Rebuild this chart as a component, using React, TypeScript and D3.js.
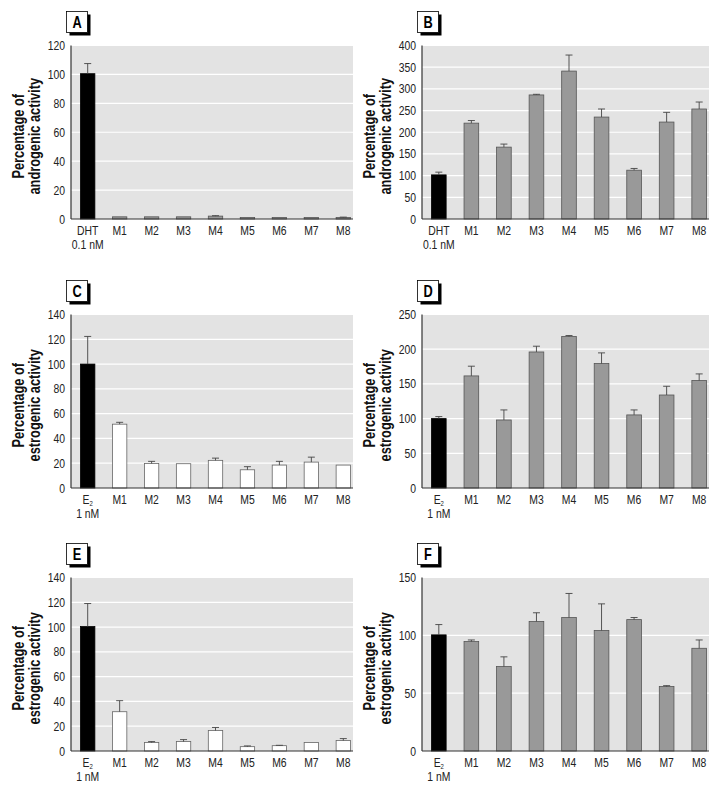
import React from "react";
import * as d3 from "d3";

// ---------- data ----------
const categories = ["ref", "M1", "M2", "M3", "M4", "M5", "M6", "M7", "M8"];

const panelLabels = ["A", "B", "C", "D", "E", "F"];
const refNames = ["DHT", "DHT", "E", "E", "E", "E"];
const refDoses = ["0.1 nM", "0.1 nM", "1 nM", "1 nM", "1 nM", "1 nM"];
const yMaxes = [120, 400, 140, 250, 140, 150];
const ySteps = [20, 50, 20, 50, 20, 50];
const yTitleLine2 = [
  "androgenic activity",
  "androgenic activity",
  "estrogenic activity",
  "estrogenic activity",
  "estrogenic activity",
  "estrogenic activity",
];
const sampleStyles = ["gray", "gray", "white", "gray", "white", "gray"];

const valuesA = [100.5, 1.5, 1.5, 1.5, 2, 1, 1, 1, 1];
const errorsA = [7, 0, 0, 0, 0.3, 0, 0, 0, 0.3];
const valuesB = [101.7, 221, 165.7, 286, 341, 235, 112.5, 223.5, 253.6];
const errorsB = [6.3, 6, 7, 1.5, 37, 18.6, 4, 22.4, 16.1];
const valuesC = [100, 51.5, 19.8, 19.6, 22.3, 14.7, 18.5, 20.9, 18.5];
const errorsC = [22.3, 1.5, 1.7, 0.2, 1.8, 2.5, 3, 4, 0];
const valuesD = [100, 161.5, 98, 196, 218.3, 179.3, 105.3, 134, 154.8];
const errorsD = [2.9, 14, 14.5, 8.3, 1.4, 15.4, 7.2, 12.6, 9.6];
const valuesE = [100.4, 31.7, 6.8, 7.6, 16.5, 3.5, 4.3, 6.8, 8.4];
const errorsE = [18.6, 8.9, 0.8, 1.6, 2.5, 0.6, 0.3, 0, 1.6];
const valuesF = [100.4, 94.6, 73, 112, 115.4, 104.2, 113.6, 55.7, 88.8];
const errorsF = [8.9, 1.4, 8.4, 7.5, 20.8, 23, 1.8, 0.8, 7.2];

const allValues = [valuesA, valuesB, valuesC, valuesD, valuesE, valuesF];
const allErrors = [errorsA, errorsB, errorsC, errorsD, errorsE, errorsF];

// ---------- layout ----------
const W = 722;
const H = 793;
const colLeft = [71, 422];
const colRight = [353, 709];
const rowTop = [45.5, 314.5, 577.5];
const plotH = 173.5;

const FONT = "'Liberation Sans', Arial, Helvetica, sans-serif";
const SQUEEZE = 0.8;

function T({
  x,
  y,
  rotate = 0,
  anchor = "middle",
  size = 13,
  weight = "normal",
  fill = "#222",
  children,
}: any) {
  return (
    <text
      transform={`translate(${x},${y}) rotate(${rotate}) scale(${SQUEEZE},1)`}
      textAnchor={anchor}
      fontFamily={FONT}
      fontSize={size}
      fontWeight={weight}
      fill={fill}
    >
      {children}
    </text>
  );
}

function Panel({ idx }: { idx: number }) {
  const col = idx % 2;
  const row = Math.floor(idx / 2);
  const left = colLeft[col];
  const right = colRight[col];
  const top = rowTop[row];
  const bottom = top + plotH;
  const values = allValues[idx];
  const errors = allErrors[idx];

  const x = d3
    .scaleBand<string>()
    .domain(categories)
    .range([left + 9.5, right - 2.5])
    .paddingInner(0.55)
    .paddingOuter(0);
  const y = d3.scaleLinear().domain([0, yMaxes[idx]]).range([bottom, top]);
  const ticks = d3.range(0, yMaxes[idx] + 0.001, ySteps[idx]);
  const bw = x.bandwidth();

  const fillFor = (i: number) => {
    if (i === 0) return "#000";
    return sampleStyles[idx] === "white" ? "#fff" : "#999";
  };
  const strokeFor = (i: number) => {
    if (i === 0) return "#000";
    return sampleStyles[idx] === "white" ? "#666" : "#555";
  };

  const titleCy = (top + bottom) / 2 + 4;
  const titleX1 = left - 47;
  const titleX2 = left - 31;
  const boxX = left - 4.5;
  const boxY = top - 34;

  return (
    <g>
      {/* panel label box */}
      <rect x={boxX + 3} y={boxY + 3} width={21} height={21} fill="#000" />
      <rect x={boxX} y={boxY} width={21} height={21} fill="#fff" stroke="#000" strokeWidth={0.8} />
      <T x={boxX + 10.5} y={boxY + 16} size={16} weight="bold" fill="#000">
        {panelLabels[idx]}
      </T>

      {/* plot background */}
      <rect x={left} y={top} width={right - left} height={plotH} fill="#e3e3e3" />
      {ticks.slice(1).map((t) => (
        <line key={t} x1={left} x2={right} y1={y(t)} y2={y(t)} stroke="#fff" strokeWidth={1.2} />
      ))}

      {/* bars */}
      {categories.map((c, i) => (
        <rect
          key={c}
          x={x(c)!}
          y={y(values[i])}
          width={bw}
          height={bottom - y(values[i])}
          fill={fillFor(i)}
          stroke={strokeFor(i)}
          strokeWidth={0.8}
        />
      ))}

      {/* error bars */}
      {categories.map((c, i) =>
        errors[i] > 0.25 ? (
          <g key={"e" + c} stroke="#444" strokeWidth={0.9}>
            <line
              x1={x(c)! + bw / 2}
              x2={x(c)! + bw / 2}
              y1={y(values[i])}
              y2={y(values[i] + errors[i])}
            />
            <line
              x1={x(c)! + bw / 2 - 3.5}
              x2={x(c)! + bw / 2 + 3.5}
              y1={y(values[i] + errors[i])}
              y2={y(values[i] + errors[i])}
            />
          </g>
        ) : null
      )}

      {/* axes */}
      <line x1={left} x2={left} y1={top} y2={bottom} stroke="#333" strokeWidth={1.2} />
      <line x1={left} x2={right} y1={bottom} y2={bottom} stroke="#333" strokeWidth={1.2} />

      {/* y tick labels */}
      {ticks.map((t) => (
        <T key={"t" + t} x={left - 6} y={y(t) + 4.5} anchor="end" size={13}>
          {t}
        </T>
      ))}

      {/* x labels */}
      {categories.map((c, i) => {
        const cx = x(c)! + bw / 2;
        if (i === 0) {
          return (
            <g key={"x" + c}>
              <T x={cx} y={bottom + 16} size={13}>
                {refNames[idx]}
                {refNames[idx] === "E" ? (
                  <tspan fontSize={7.5} dy={2}>
                    2
                  </tspan>
                ) : null}
              </T>
              <T x={cx} y={bottom + 30} size={13}>
                {refDoses[idx]}
              </T>
            </g>
          );
        }
        return (
          <T key={"x" + c} x={cx} y={bottom + 16} size={13}>
            {c}
          </T>
        );
      })}

      {/* y title */}
      <T x={titleX1} y={titleCy} rotate={-90} size={16} weight="bold" fill="#111">
        Percentage of
      </T>
      <T x={titleX2} y={titleCy} rotate={-90} size={16} weight="bold" fill="#111">
        {yTitleLine2[idx]}
      </T>
    </g>
  );
}

export default function App() {
  return (
    <svg
      width={W}
      height={H}
      viewBox={`0 0 ${W} ${H}`}
      style={{ position: "absolute", left: 0, top: 0, background: "#fff" }}
    >
      <rect width={W} height={H} fill="#fff" />
      {panelLabels.map((_, i) => (
        <Panel key={i} idx={i} />
      ))}
    </svg>
  );
}
